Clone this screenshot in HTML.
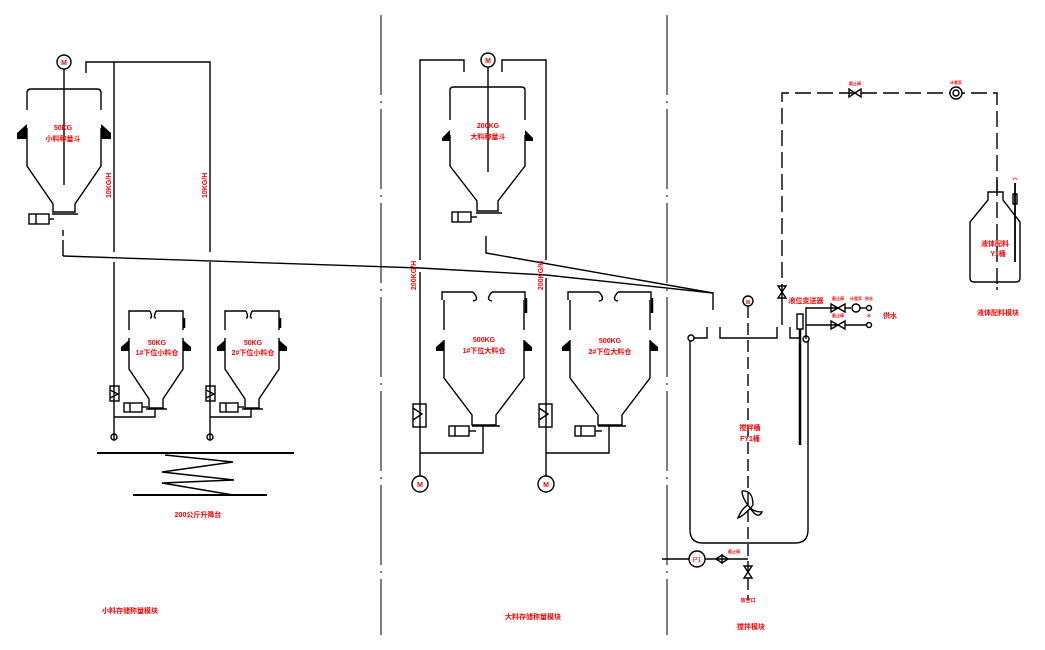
<!DOCTYPE html>
<html><head><meta charset="utf-8"><style>
html,body{margin:0;padding:0;background:#fff;width:1045px;height:650px;overflow:hidden}
svg{display:block}
text{font-family:"Liberation Sans","Noto Sans CJK SC",sans-serif;fill:#f00;font-weight:bold}
</style></head><body>
<svg width="1045" height="650" viewBox="0 0 1045 650" xmlns="http://www.w3.org/2000/svg">
<g stroke="#000" stroke-width="1.4" fill="none">
<line x1="381" y1="15" x2="381" y2="635" stroke-dasharray="80,6,2,6" stroke-width="1"/>
<line x1="667" y1="15" x2="667" y2="635" stroke-dasharray="80,6,2,6" stroke-width="1"/>

<circle cx="64" cy="62" r="7"/>
<line x1="64" y1="69" x2="64" y2="185"/>
<path d="M27,110 V93 Q27,89 31,89 H97 Q101,89 101,93 V110"/>
<path d="M27,128 V166 L53,204 V212 H75 V204 L101,166 V128"/>
<line x1="52" y1="214" x2="78" y2="214"/>
<rect x="29" y="214" width="20" height="10"/>
<line x1="36" y1="214" x2="36" y2="224"/>
<line x1="49" y1="219" x2="54" y2="219"/>
<line x1="63" y1="230" x2="63" y2="236"/>
<line x1="63" y1="240" x2="63" y2="256"/>
<path d="M86,73 V62 H210 V252"/>
<line x1="114" y1="62" x2="114" y2="252"/>
<line x1="114" y1="262" x2="114" y2="440"/>
<line x1="210" y1="262" x2="210" y2="440"/>
<polyline points="63,256 420,268 546,275 713,293 713,310"/>
<polyline points="486,236 486,253 713,293"/>

<g id="sh">
<path d="M129,330 V311 H150 M156,311 H183 V330"/>
<path d="M150,311 Q153,318 150,318 M156,311 Q153,318 156,318"/>
<path d="M129,338 V369 L149,399 V408 H163 V399 L183,369 V338"/>
<line x1="146" y1="409" x2="167" y2="409"/>
<rect x="124" y="403" width="18" height="9"/>
<line x1="130" y1="403" x2="130" y2="412"/>
<line x1="142" y1="407" x2="148" y2="407"/>
<path d="M155,409 V417 H114"/>
<rect x="110" y="386" width="9" height="15"/>
<polyline points="110,390 118,394 110,398"/>
<circle cx="114" cy="437" r="3"/>
<line x1="184" y1="318" x2="184" y2="328" stroke-width="2.5"/>
</g>
<use href="#sh" transform="translate(96,0)"/>

<line x1="97" y1="453" x2="294" y2="453" stroke-width="2"/>
<line x1="133" y1="495" x2="267" y2="495" stroke-width="2"/>
<polyline points="165,455 233,462 162,472 234,480 162,483 233,495"/>

<circle cx="488" cy="60" r="7"/>
<line x1="488" y1="67" x2="488" y2="172"/>
<path d="M464,72 V60 H420 V260"/>
<path d="M502,72 V60 H546 V260"/>
<line x1="420" y1="272" x2="420" y2="440"/>
<line x1="546" y1="278" x2="546" y2="440"/>
<path d="M450,120 V90 Q450,87 454,87 H521 Q525,87 525,90 V120"/>
<path d="M450,135 V166 L477,201 V211 H498 V201 L525,166 V135"/>
<line x1="476" y1="213" x2="502" y2="213"/>
<rect x="452" y="212" width="19" height="10"/>
<line x1="458" y1="212" x2="458" y2="222"/>
<line x1="471" y1="217" x2="477" y2="217"/>

<g id="bh">
<path d="M442,300 V292 H473 M492,292 H525 V300"/>
<path d="M473,292 Q480,300 473,301 M492,292 Q485,300 492,301"/>
<path d="M444,300 V330 M524,300 V330"/>
<path d="M444,340 V378 L472,415 V425 H496 V415 L524,378 V340"/>
<line x1="472" y1="426" x2="500" y2="426"/>
<rect x="449" y="426" width="20" height="10"/>
<line x1="455" y1="426" x2="455" y2="436"/>
<line x1="469" y1="431" x2="476" y2="431"/>
<path d="M483,426 V453 H420"/>
<rect x="413" y="404" width="13" height="23"/>
<polyline points="413,408 422,414 413,420"/>
<circle cx="420" cy="484" r="8"/>
<line x1="420" y1="440" x2="420" y2="476"/>
<line x1="526" y1="298" x2="526" y2="313" stroke-width="2.5"/>
</g>
<use href="#bh" transform="translate(126,0)"/>

<path d="M690,338 V530 Q690,543 703,543 H795 Q808,543 808,530 V341"/>
<circle cx="691" cy="338" r="3" fill="#fff"/>
<circle cx="806" cy="339" r="3" fill="#fff"/>
<path d="M694,338 H707 V327 M720,327 V338 H777 V327 M790,327 V338 H800"/>
<circle cx="748" cy="301" r="5"/>
<line x1="748" y1="306" x2="748" y2="600" stroke-dasharray="12,5"/>
<path d="M742,491 Q753,490 753,505 Q745,515 738,518 Q742,508 748,505 Q752,512 762,512 Q758,520 750,508 Q742,498 742,491"/>
<line x1="782" y1="300" x2="782" y2="325"/>
<rect x="797" y="314" width="6" height="15"/>
<line x1="800" y1="329" x2="800" y2="445" stroke-width="2.5"/>
<path d="M806,339 V308 H838 M806,325 H838"/>
<path d="M838,308 L845,304 V312 L838,308 L831,304 V312 Z"/>
<path d="M838,325 L845,321 V329 L838,325 L831,321 V329 Z"/>
<line x1="845" y1="308" x2="851" y2="308"/><circle cx="856" cy="308" r="4"/><line x1="860" y1="308" x2="866" y2="308"/>
<circle cx="869" cy="308" r="2.5"/><line x1="845" y1="325" x2="866" y2="325"/><circle cx="869" cy="325" r="2.5"/>
<circle cx="697" cy="559" r="8"/>
<line x1="662" y1="559" x2="689" y2="559"/>
<line x1="705" y1="559" x2="748" y2="559"/>
<path d="M716,559 L722,555 V563 Z M728,559 L722,555 V563 Z"/>
<path d="M748,572 L744,566 H752 Z M748,572 L744,578 H752 Z"/>
<path d="M782,300 V93 H997 V290" stroke-dasharray="16,6"/>
<path d="M855,93 L849,89 V97 Z M855,93 L861,89 V97 Z"/>
<circle cx="956" cy="93" r="6" fill="#fff"/><circle cx="956" cy="93" r="3"/>
<path d="M782,292 L778,286 H786 Z M782,292 L778,298 H786 Z"/>
<path d="M988,192 H1003 V200 L1020,222 V278 Q1020,282 1016,282 H974 Q970,282 970,278 V222 L988,200 Z" fill="#fff"/>
<line x1="997" y1="180" x2="997" y2="290" stroke-dasharray="16,6"/>
<rect x="1013" y="194" width="4" height="10"/>
<line x1="1015" y1="183" x2="1015" y2="262" stroke-width="1.8"/>
</g>
<g font-size="7" text-anchor="middle" style="font-weight:normal">
<text x="64" y="65">M</text><text x="488" y="63">M</text><text x="420" y="487">M</text><text x="546" y="487">M</text><text x="748" y="304" font-size="5">M</text>
</g>
<g font-size="7" text-anchor="middle">
<text x="63" y="130">50KG</text><text x="63" y="141">小料称量斗</text>
<text x="157" y="345">50KG</text><text x="157" y="355">1#下位小料仓</text>
<text x="253" y="345">50KG</text><text x="253" y="355">2#下位小料仓</text>
<text x="488" y="128">200KG</text><text x="488" y="139">大料称量斗</text>
<text x="484" y="342">500KG</text><text x="484" y="353">1#下位大料仓</text>
<text x="610" y="343">500KG</text><text x="610" y="354">2#下位大料仓</text>
<text x="750" y="430">搅拌桶</text><text x="750" y="441">FY1桶</text>
<text x="995" y="246">液体配料</text><text x="998" y="256">Y1桶</text>
<text x="198" y="517">200公斤升降台</text>
<text x="130" y="613">小料存储称量模块</text>
<text x="533" y="619">大料存储称量模块</text>
<text x="751" y="629">搅拌模块</text>
<text x="998" y="315">液体配料模块</text>
<text x="890" y="318">供水</text>
<text x="806" y="303">液位变送器</text>
<text x="748" y="602" font-size="5">放空口</text>
</g>
<text x="697" y="562" font-size="7" text-anchor="middle" style="font-weight:normal">P1</text>
<g font-size="7">
<text transform="translate(111,198) rotate(-90)">10KG/H</text>
<text transform="translate(207,198) rotate(-90)">10KG/H</text>
<text transform="translate(416,290) rotate(-90)">200KG/H</text>
<text transform="translate(543,290) rotate(-90)">200KG/H</text>
</g>
<g font-size="4" text-anchor="middle">
<text x="855" y="85">截止阀</text><text x="956" y="84">计量泵</text>
<text x="838" y="300">截止阀</text><text x="838" y="317">截止阀</text><text x="856" y="300">计量泵</text><text x="869" y="300">热水</text><text x="869" y="317">水</text>
<text x="1015" y="180">YV</text><text x="734" y="553">截止阀</text>
</g>
<g fill="#000">
<path d="M17,133 L27,124 V139 H17 Z"/><path d="M111,133 L101,124 V139 H111 Z"/>
<path d="M121,347 L129,340 V351 H121 Z"/><path d="M191,347 L183,340 V351 H191 Z"/>
<path d="M217,347 L225,340 V351 H217 Z"/><path d="M287,347 L279,340 V351 H287 Z"/>
<path d="M442,138 L450,130 V141 H442 Z"/><path d="M533,138 L525,130 V141 H533 Z"/>
<path d="M436,347 L444,340 V351 H436 Z"/><path d="M532,347 L524,340 V351 H532 Z"/>
<path d="M562,347 L570,340 V351 H562 Z"/><path d="M658,347 L650,340 V351 H658 Z"/>
</g>
</svg>
</body></html>
